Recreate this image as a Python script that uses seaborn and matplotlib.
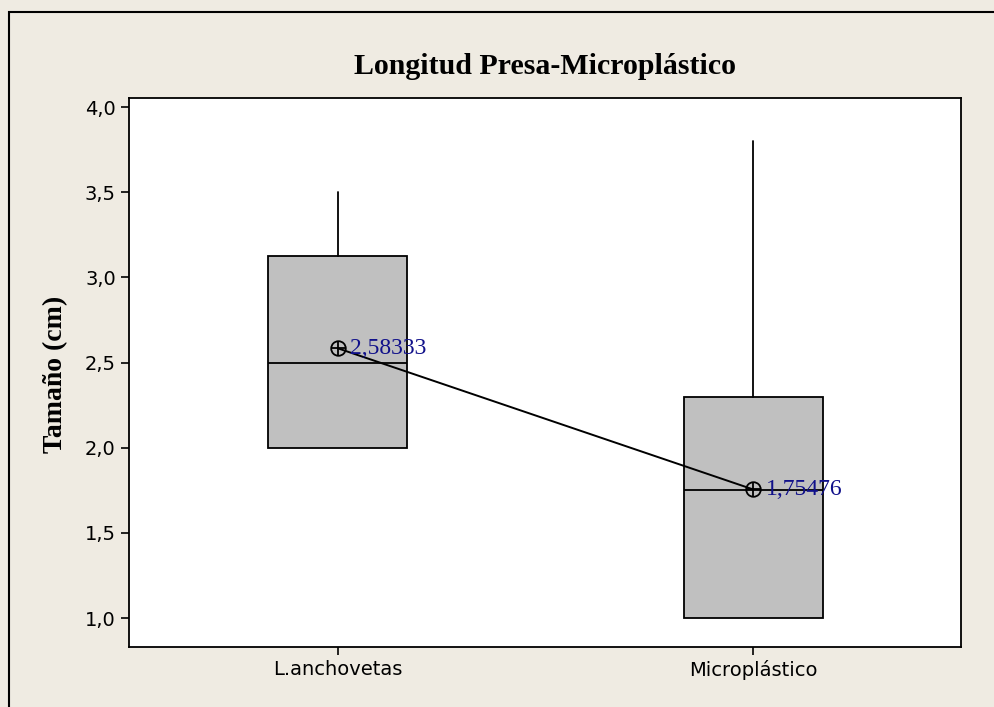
import matplotlib
matplotlib.use("Agg")
import matplotlib.pyplot as plt
from matplotlib.patches import Rectangle
import seaborn as sns

# values (Minitab style boxplot)
groups = ["L.anchovetas", "Microplástico"]
q1 = [2.0, 1.0]
medians = [2.5, 1.75]
q3 = [3.125, 2.3]
whisker_low = [2.0, 1.0]
whisker_high = [3.5, 3.8]
means = [2.58333, 1.75476]
mean_labels = ["2,58333", "1,75476"]
yticks = [1.0, 1.5, 2.0, 2.5, 3.0, 3.5, 4.0]
ytick_labels = ["1,0", "1,5", "2,0", "2,5", "3,0", "3,5", "4,0"]

sns.set_theme(style="white")
plt.rcParams["font.family"] = ["DejaVu Sans"]

fig = plt.figure(figsize=(9.95, 7.07), dpi=100, facecolor="#efebe2")
ax = fig.add_axes([0.1296, 0.0849, 0.8362, 0.7765])
ax.set_facecolor("white")

positions = list(range(len(groups)))
stats = []
for g, a, m, b, lo, hi in zip(groups, q1, medians, q3, whisker_low, whisker_high):
    stats.append(dict(label=g, q1=a, med=m, q3=b, whislo=lo, whishi=hi, fliers=[]))

ax.bxp(stats, positions=positions, widths=0.335, patch_artist=True, showcaps=False,
       boxprops=dict(facecolor="#c0c0c0", edgecolor="black", linewidth=1.3),
       medianprops=dict(color="black", linewidth=1.3),
       whiskerprops=dict(color="black", linewidth=1.3))

# mean connect line with circled-plus symbols
sns.lineplot(x=positions, y=means, color="black", linewidth=1.4, marker="o",
             markersize=10.5, markerfacecolor="none", markeredgecolor="black",
             markeredgewidth=1.3, ax=ax)
sns.scatterplot(x=positions, y=means, marker="+", s=110, color="black",
                linewidth=1.3, ax=ax, zorder=5)

for p, m, lab in zip(positions, means, mean_labels):
    ax.annotate(lab, (p, m), xytext=(9, 0), textcoords="offset points",
                ha="left", va="center", color="#10108a", fontsize=17,
                family="Liberation Serif")

ax.set_xlim(-0.503, 1.5)
ax.set_ylim(0.83, 4.053)
ax.set_xticks(positions)
ax.set_xticklabels(groups)
ax.set_yticks(yticks)
ax.set_yticklabels(ytick_labels)
ax.tick_params(bottom=True, left=True, direction="out", length=6, width=1.2,
               color="black", labelsize=14, labelcolor="black")
for s in ax.spines.values():
    s.set_color("black")
    s.set_linewidth(1.3)

fig.text(545 / 995, 1 - 66 / 707, "Longitud Presa-Microplástico", ha="center", va="center",
         fontsize=21.5, fontweight="bold", family="Liberation Serif", color="black")
fig.text(56 / 995, 1 - 374 / 707, "Tamaño (cm)", ha="center", va="center", rotation=90,
         fontsize=20, fontweight="bold", family="Liberation Serif", color="black")

fig.patches.append(Rectangle((9 / 995, -0.1), 1.2, 1.1 - 12 / 707, transform=fig.transFigure,
                             fill=False, edgecolor="black", linewidth=1.5))

fig.savefig("out.png", dpi=100, facecolor=fig.get_facecolor())
